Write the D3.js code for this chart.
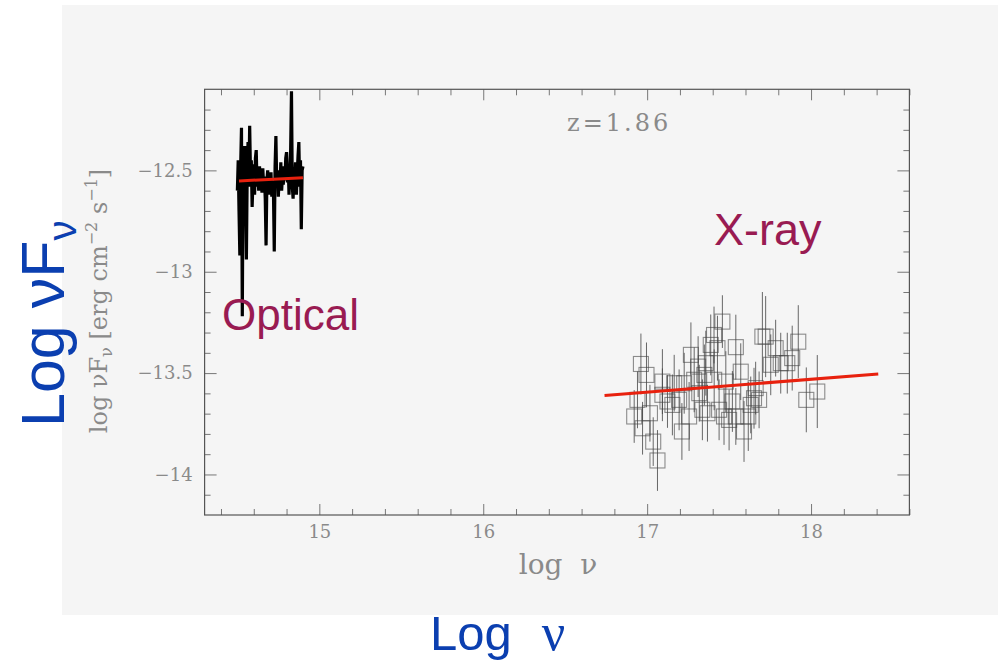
<!DOCTYPE html>
<html>
<head>
<meta charset="utf-8">
<script src="https://cdn.jsdelivr.net/npm/d3@7"></script>
<style>
  body { margin: 0; background: #fff; }
</style>
</head>
<body>
<div id="chart"></div>
<script>
// optical spectrum (log nu, log nuFnu)
const opticalNu = [14.500, 14.505, 14.510, 14.515, 14.520, 14.525, 14.530, 14.535, 14.540, 14.545,
  14.550, 14.555, 14.560, 14.565, 14.570, 14.575, 14.580, 14.585, 14.590, 14.595,
  14.600, 14.605, 14.610, 14.615, 14.620, 14.625, 14.630, 14.635, 14.640, 14.645,
  14.650, 14.655, 14.660, 14.665, 14.670, 14.675, 14.680, 14.685, 14.690, 14.695,
  14.700, 14.705, 14.710, 14.715, 14.720, 14.725, 14.730, 14.735, 14.740, 14.745,
  14.750, 14.755, 14.760, 14.765, 14.770, 14.775, 14.780, 14.785, 14.790, 14.795,
  14.800, 14.805, 14.810, 14.815, 14.820, 14.825, 14.830, 14.835, 14.840, 14.845,
  14.850, 14.855, 14.860, 14.865, 14.870, 14.875, 14.880, 14.885, 14.890, 14.895, 14.900];
const opticalFlux = [-12.60, -12.45, -12.70, -12.92, -12.48, -12.29, -13.22, -12.42, -12.66, -12.38,
  -12.62, -12.94, -12.50, -12.36, -12.58, -12.28, -12.52, -12.45, -12.68, -12.55,
  -12.47, -12.62, -12.44, -12.40, -12.58, -12.50, -12.60, -12.48, -12.56, -12.52,
  -12.61, -12.49, -12.57, -12.53, -12.64, -12.87, -12.55, -12.50, -12.62, -12.54,
  -12.58, -12.51, -12.63, -12.55, -12.60, -12.90, -12.48, -12.33, -12.56, -12.50,
  -12.63, -12.52, -12.58, -12.46, -12.60, -12.53, -12.57, -12.48, -12.55, -12.44,
  -12.41, -12.56, -12.47, -12.62, -12.50, -12.40, -12.11, -12.58, -12.64, -12.49,
  -12.55, -12.46, -12.62, -12.52, -12.43, -12.36, -12.58, -12.45, -12.79, -12.50, -12.48];

// X-ray points
const xrayNu = [16.962, 16.996, 16.921, 16.972, 17.037, 17.063, 17.017, 16.941, 17.093, 17.124,
  17.154, 17.212, 17.267, 17.256, 17.226, 17.311, 17.318, 17.337, 17.358, 17.388,
  17.408, 17.459, 17.429, 17.469, 17.500, 17.541, 17.480, 17.571, 17.520, 17.591,
  17.617, 17.652, 17.683, 17.662, 17.703, 17.723, 17.784, 17.754, 17.815, 17.885,
  17.922, 17.971, 18.038, 17.855, 17.165, 17.349, 17.368, 17.439, 17.541, 17.195,
  17.287, 17.409, 17.632, 17.093];
const xrayFlux = [-13.455, -13.509, -13.714, -13.772, -13.838, -13.931, -13.698, -13.632, -13.542, -13.640,
  -13.657, -13.788, -13.410, -13.714, -13.550, -13.468, -13.599, -13.681, -13.451, -13.361,
  -13.312, -13.246, -13.377, -13.714, -13.731, -13.372, -13.542, -13.493, -13.640, -13.788,
  -13.714, -13.624, -13.632, -13.574, -13.320, -13.320, -13.377, -13.459, -13.451, -13.426,
  -13.345, -13.632, -13.591, -13.451, -13.550, -13.509, -13.698, -13.681, -13.714, -13.632,
  -13.533, -13.533, -13.657, -13.607];
const xrayErr = [0.15, 0.16, 0.13, 0.13, 0.12, 0.15, 0.14, 0.14, 0.16, 0.13,
  0.15, 0.14, 0.16, 0.17, 0.15, 0.15, 0.14, 0.15, 0.16, 0.15,
  0.14, 0.13, 0.16, 0.14, 0.15, 0.16, 0.15, 0.14, 0.15, 0.15,
  0.17, 0.15, 0.14, 0.13, 0.22, 0.20, 0.14, 0.15, 0.15, 0.16,
  0.18, 0.16, 0.18, 0.15, 0.14, 0.15, 0.14, 0.15, 0.14, 0.15,
  0.16, 0.15, 0.14, 0.13];

// power-law fits
const opticalFitNu = [14.51, 14.90];
const opticalFitFlux = [-12.552, -12.536];
const xrayFitNu = [16.74, 18.41];
const xrayFitFlux = [-13.611, -13.504];

// axis ticks
const xTicks = [15, 16, 17, 18];
const yTicks = [-12.5, -13, -13.5, -14];

const W = 998, H = 670;
const plot = {left: 204.6, right: 909.4, top: 89.3, bottom: 515};

const svg = d3.select("#chart").append("svg")
  .attr("width", W)
  .attr("height", H);

// slide background
svg.append("rect")
  .attr("x", 62).attr("y", 5)
  .attr("width", W - 62).attr("height", 610)
  .attr("fill", "#f5f5f5");

const x = d3.scaleLinear().domain([14.3, 18.6]).range([plot.left, plot.right]);
const y = d3.scaleLinear().domain([-14.2, -12.1]).range([plot.bottom, plot.top]);

const tickColor = "#777";
const labelColor = "#8a8a8a";
const serif = "'DejaVu Serif', serif";

const xMinor = d3.range(14.4, 18.6, 0.2).filter(v => Math.abs(v - Math.round(v)) > 0.01);
const yMinor = d3.range(-14.1, -12.1, 0.1).filter(v => Math.abs(v * 2 - Math.round(v * 2)) > 0.01);

function styleAxis(g) {
  g.select(".domain").remove();
  g.selectAll(".tick line").attr("stroke", tickColor);
  g.selectAll(".tick text")
    .attr("fill", labelColor)
    .style("font-family", serif)
    .style("font-size", "18px");
}

// bottom
svg.append("g").attr("transform", `translate(0,${plot.bottom})`)
  .call(d3.axisBottom(x).tickValues(xTicks).tickSize(-11).tickPadding(10).tickFormat(d3.format("d")))
  .call(styleAxis);
svg.append("g").attr("transform", `translate(0,${plot.bottom})`)
  .call(d3.axisBottom(x).tickValues(xMinor).tickSize(-6).tickFormat(""))
  .call(styleAxis);
// top
svg.append("g").attr("transform", `translate(0,${plot.top})`)
  .call(d3.axisTop(x).tickValues(xTicks).tickSize(-11).tickFormat(""))
  .call(styleAxis);
svg.append("g").attr("transform", `translate(0,${plot.top})`)
  .call(d3.axisTop(x).tickValues(xMinor).tickSize(-6).tickFormat(""))
  .call(styleAxis);
// left
svg.append("g").attr("transform", `translate(${plot.left},0)`)
  .call(d3.axisLeft(y).tickValues(yTicks).tickSize(-12).tickPadding(12)
    .tickFormat(d => d3.format("")(d).replace("-", "\u2212\u2009")))
  .call(styleAxis);
svg.append("g").attr("transform", `translate(${plot.left},0)`)
  .call(d3.axisLeft(y).tickValues(yMinor).tickSize(-6).tickFormat(""))
  .call(styleAxis);
// right
svg.append("g").attr("transform", `translate(${plot.right},0)`)
  .call(d3.axisRight(y).tickValues(yTicks).tickSize(-12).tickFormat(""))
  .call(styleAxis);
svg.append("g").attr("transform", `translate(${plot.right},0)`)
  .call(d3.axisRight(y).tickValues(yMinor).tickSize(-6).tickFormat(""))
  .call(styleAxis);

// frame
svg.append("rect")
  .attr("x", plot.left).attr("y", plot.top)
  .attr("width", plot.right - plot.left).attr("height", plot.bottom - plot.top)
  .attr("fill", "none").attr("stroke", "#555").attr("stroke-width", 1.2);

// X-ray error bars and squares
const xray = xrayNu.map((d, i) => ({nu: d, f: xrayFlux[i], e: xrayErr[i]}));
svg.append("g").selectAll("line")
  .data(xray).enter().append("line")
  .attr("x1", d => x(d.nu)).attr("x2", d => x(d.nu))
  .attr("y1", d => y(d.f - d.e)).attr("y2", d => y(d.f + d.e))
  .attr("stroke", "#444").attr("stroke-opacity", 0.8).attr("stroke-width", 1);
const sq = 15;
svg.append("g").selectAll("rect")
  .data(xray).enter().append("rect")
  .attr("x", d => x(d.nu) - sq / 2).attr("y", d => y(d.f) - sq / 2)
  .attr("width", sq).attr("height", sq)
  .attr("fill", "none").attr("stroke", "#444").attr("stroke-opacity", 0.6).attr("stroke-width", 1.1);

// optical spectrum
const line = d3.line().x(d => x(d[0])).y(d => y(d[1]));
svg.append("path")
  .datum(opticalNu.map((d, i) => [d, opticalFlux[i]]))
  .attr("d", line)
  .attr("fill", "none").attr("stroke", "#000").attr("stroke-width", 3.2)
  .attr("stroke-linejoin", "bevel");

// fits
svg.append("path")
  .datum(opticalFitNu.map((d, i) => [d, opticalFitFlux[i]]))
  .attr("d", line)
  .attr("stroke", "#e8210e").attr("stroke-width", 3);
svg.append("path")
  .datum(xrayFitNu.map((d, i) => [d, xrayFitFlux[i]]))
  .attr("d", line)
  .attr("stroke", "#e8210e").attr("stroke-width", 3);

// redshift
svg.append("text")
  .attr("x", 567).attr("y", 131)
  .style("font-family", serif).style("font-size", "24px")
  .style("letter-spacing", "3px")
  .attr("fill", labelColor)
  .text("z=1.86");

// axis titles
svg.append("text")
  .attr("x", 558).attr("y", 574)
  .attr("text-anchor", "middle")
  .style("font-family", serif).style("font-size", "28px")
  .attr("fill", labelColor)
  .attr("xml:space", "preserve")
  .text("log  \u03bd");

const yt = svg.append("text")
  .attr("transform", "translate(107,301) rotate(-90)")
  .attr("text-anchor", "middle")
  .style("font-family", serif).style("font-size", "24px")
  .attr("fill", labelColor)
  .attr("xml:space", "preserve");
yt.append("tspan").text("log \u03bdF");
yt.append("tspan").attr("dy", 5).style("font-size", "16px").text("\u03bd");
yt.append("tspan").attr("dy", -5).text(" [erg cm");
yt.append("tspan").attr("dy", -10).style("font-size", "16px").text("\u22122");
yt.append("tspan").attr("dy", 10).text(" s");
yt.append("tspan").attr("dy", -10).style("font-size", "16px").text("\u22121");
yt.append("tspan").attr("dy", 10).text("]");

// slide annotations
const sans = "'Liberation Sans', Arial, sans-serif";
const maroon = "#991b52";
const blue = "#0b3fb0";

svg.append("text")
  .attr("x", 222).attr("y", 330)
  .style("font-family", sans).style("font-size", "44px")
  .attr("fill", maroon).text("Optical");
svg.append("text")
  .attr("x", 714).attr("y", 245)
  .style("font-family", sans).style("font-size", "45px")
  .attr("fill", maroon).text("X-ray");

const big = svg.append("text")
  .attr("transform", "translate(64,427) rotate(-90)")
  .style("font-family", sans).style("font-size", "61px")
  .attr("fill", blue);
big.append("tspan").text("Log \u03bdF");
big.append("tspan").attr("dy", 12).style("font-size", "40px").text("\u03bd");

const bl = svg.append("text")
  .attr("x", 430).attr("y", 650)
  .style("font-family", sans).style("font-size", "49px")
  .attr("fill", blue);
bl.append("tspan").text("Log");
bl.append("tspan").attr("dx", 30).style("font-family", "'Liberation Serif', serif").style("font-size", "52px").text("\u03bd");
</script>
</body>
</html>
